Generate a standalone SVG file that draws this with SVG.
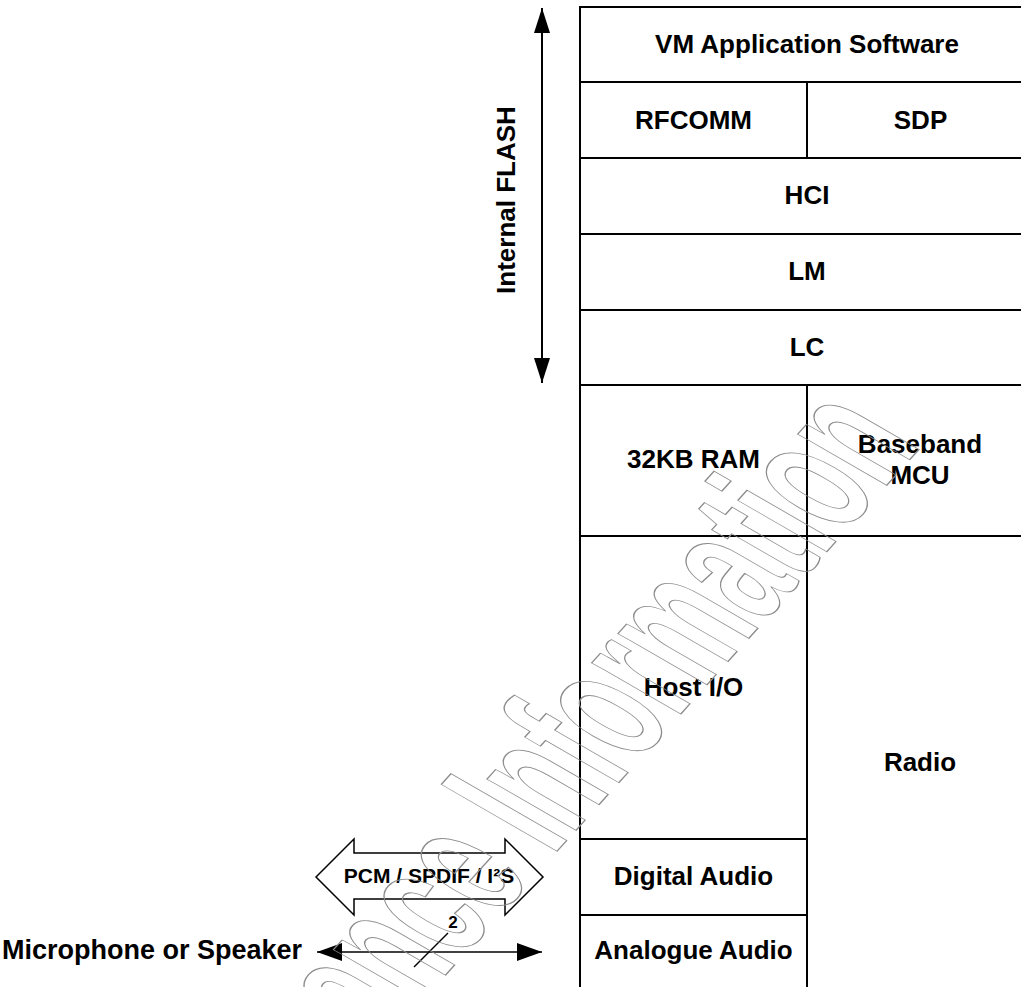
<svg xmlns="http://www.w3.org/2000/svg" width="1021" height="987" viewBox="0 0 1021 987">
<defs>
<style>
.cell{fill:#fff;stroke:#000;stroke-width:2}
.lbl{font-family:"Liberation Sans",Arial,sans-serif;font-weight:bold;font-size:26px;fill:#000;text-anchor:middle}
.wire{stroke:#000;fill:none}
.wm{font-family:"Liberation Sans",Arial,sans-serif;font-weight:bold;font-size:190px;fill:none;stroke:#8c8c8c;stroke-width:1.1}
</style>
<marker id="bigHead" viewBox="0 0 25 16" refX="25" refY="8" markerWidth="25" markerHeight="16" markerUnits="userSpaceOnUse" orient="auto-start-reverse">
<path d="M0,0 L25,8 L0,16 z" fill="#000"/>
</marker>
<marker id="smallHead" viewBox="0 0 25 18" refX="25" refY="9" markerWidth="25" markerHeight="18" markerUnits="userSpaceOnUse" orient="auto-start-reverse">
<path d="M0,0 L25,9 L0,18 z" fill="#000"/>
</marker>
</defs>
<rect width="1021" height="987" fill="#fff"/>

<g id="vm-app"><rect class="cell" x="580" y="7" width="454" height="75"/><text class="lbl" x="807" y="53">VM Application Software</text></g>
<g id="rfcomm"><rect class="cell" x="580" y="82" width="227" height="76"/><text class="lbl" x="693.5" y="129">RFCOMM</text></g>
<g id="sdp"><rect class="cell" x="807" y="82" width="227" height="76"/><text class="lbl" x="920.5" y="129">SDP</text></g>
<g id="hci"><rect class="cell" x="580" y="158" width="454" height="76"/><text class="lbl" x="807" y="204">HCI</text></g>
<g id="lm"><rect class="cell" x="580" y="234" width="454" height="76"/><text class="lbl" x="807" y="280">LM</text></g>
<g id="lc"><rect class="cell" x="580" y="310" width="454" height="75"/><text class="lbl" x="807" y="356">LC</text></g>
<g id="ram"><rect class="cell" x="580" y="385" width="227" height="151"/><text class="lbl" x="693.5" y="468">32KB RAM</text></g>
<g id="baseband"><rect class="cell" x="807" y="385" width="227" height="151"/><text class="lbl" x="920" y="453">Baseband</text><text class="lbl" x="920" y="484">MCU</text></g>
<g id="host-io"><rect class="cell" x="580" y="536" width="227" height="303"/><text class="lbl" x="693.5" y="696">Host I/O</text></g>
<g id="digital-audio"><rect class="cell" x="580" y="839" width="227" height="76"/><text class="lbl" x="693.5" y="885">Digital Audio</text></g>
<g id="analogue-audio"><rect class="cell" x="580" y="915" width="227" height="90"/><text class="lbl" x="693.5" y="959">Analogue Audio</text></g>
<g id="radio"><rect class="cell" x="807" y="536" width="227" height="469"/><text class="lbl" x="920" y="771">Radio</text></g>

<g id="internal-flash"><text class="lbl" transform="translate(515,200) rotate(-90)">Internal FLASH</text></g>
<g id="audio-bus"><polygon points="316,877 354,839 354,853 505,853 505,839 543,877 505,915 505,899 354,899 354,915" fill="#fff" stroke="#000" stroke-width="1.5"/><text class="lbl" x="429" y="883" style="font-size:21px">PCM / SPDIF / I²S</text></g>
<g id="mic-speaker"><text class="lbl" x="2" y="959" style="font-size:27px;text-anchor:start">Microphone or Speaker</text></g>

<g id="connectors">
<line class="wire" x1="542" y1="8" x2="542" y2="383" stroke-width="2" marker-start="url(#bigHead)" marker-end="url(#bigHead)"/>
<line class="wire" x1="317" y1="952" x2="542" y2="952" stroke-width="1.5" marker-start="url(#smallHead)" marker-end="url(#smallHead)"/>
<line class="wire" x1="414" y1="967" x2="448" y2="933" stroke-width="1.5"/>
<text class="lbl" x="453" y="928" style="font-size:17px">2</text>
</g>

<text class="wm" transform="translate(253,1189) rotate(-48) skewX(12) scale(0.53,1)" style="vector-effect:non-scaling-stroke">Advance Information</text>
</svg>
